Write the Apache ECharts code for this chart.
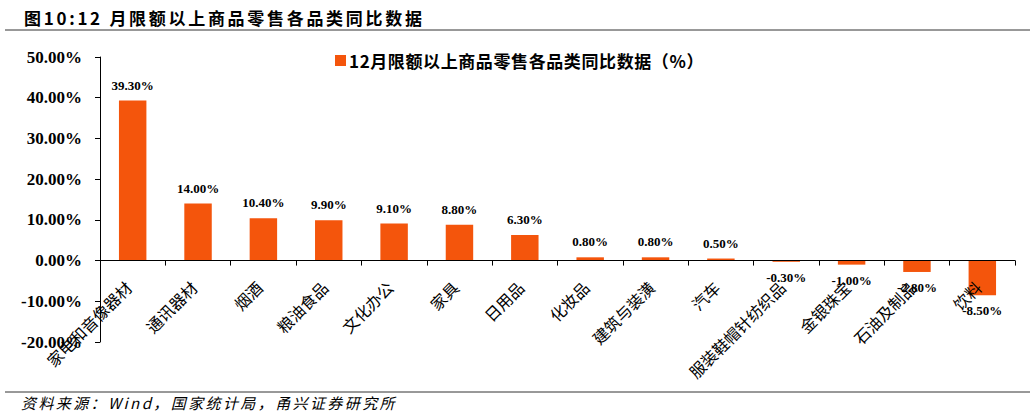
<!DOCTYPE html>
<html><head><meta charset="utf-8">
<script src="https://cdn.jsdelivr.net/npm/echarts@6/dist/echarts.min.js"></script>
<style>html,body{margin:0;padding:0;background:#fff}#c{width:1032px;height:419px}</style>
</head><body><div id="c"></div>
<script>
const categories = ['家电和音像器材','通讯器材','烟酒','粮油食品','文化办公','家具','日用品','化妆品','建筑与装潢','汽车','服装鞋帽针纺织品','金银珠宝','石油及制品','饮料'];
const values = [39.3, 14.0, 10.4, 9.9, 9.1, 8.8, 6.3, 0.8, 0.8, 0.5, -0.3, -1.0, -2.8, -8.5];
const seriesName = '12月限额以上商品零售各品类同比数据（%）';
const titleText = '图10:12 月限额以上商品零售各品类同比数据';
const sourceText = '资料来源：Wind，国家统计局，甬兴证券研究所';

const chart = echarts.init(document.getElementById('c'), null, {renderer: 'svg'});
const serif = '"Liberation Serif","Times New Roman",serif';
const cjk = '"Noto Sans CJK SC",sans-serif';
chart.setOption({
  animation: false,
  title: {text: titleText, left: 19, top: 4, textStyle: {fontSize: 17, fontWeight: 'bold', color: '#000', fontFamily: cjk}},
  graphic: [
    {type: 'line', shape: {x1: 5, y1: 30, x2: 1030, y2: 30}, style: {stroke: '#333', lineWidth: 1}},
    {type: 'line', shape: {x1: 5, y1: 392, x2: 1030, y2: 392}, style: {stroke: '#333', lineWidth: 1}},
    {type: 'text', left: 21, top: 395, style: {text: sourceText, font: 'italic 15px ' + cjk, fill: '#000'}}
  ],
  legend: {left: 330, top: 47, itemWidth: 11, itemHeight: 11, itemGap: 5, icon: 'rect',
    textStyle: {fontSize: 17, fontWeight: 'bold', color: '#000', fontFamily: cjk, padding: [0, 0, 0, -2]}},
  grid: {left: 100, right: 17, top: 57, bottom: 77, containLabel: false, outerBoundsMode: 'none'},
  xAxis: {type: 'category', data: categories, z: 5,
    axisLine: {onZero: true, lineStyle: {color: '#000', width: 1}},
    axisTick: {show: true, inside: false, length: 5, lineStyle: {color: '#000'}},
    axisLabel: {interval: 0, rotate: 45, fontSize: 16, color: '#000', fontFamily: cjk, margin: -62, padding: [0, 6, 0, 0]}},
  yAxis: {type: 'value', min: -20, max: 50, interval: 10,
    splitLine: {show: false},
    axisLine: {show: true, lineStyle: {color: '#000'}},
    axisTick: {show: true, length: 5, lineStyle: {color: '#000'}},
    axisLabel: {formatter: v => v.toFixed(2) + '%', fontSize: 17, fontWeight: 'bold', color: '#000', fontFamily: serif, margin: 18}},
  series: [{
    type: 'bar', name: seriesName, barWidth: '42%',
    data: values.map(v => v < 0 ? {value: v, label: {position: 'bottom'}} : {value: v}),
    itemStyle: {color: '#F4550C'},
    label: {show: true, fontSize: 13, fontWeight: 'bold', color: '#000', fontFamily: serif,
      formatter: p => p.value.toFixed(2) + '%', distance: 9, position: 'top'}
  }]
});
// letter spacing for title, legend and source text (SVG renderer)
const spacing = {};
spacing[titleText] = '2.7px';
spacing[seriesName] = '0.6px';
spacing[sourceText] = '2.4px';
document.querySelectorAll('#c text').forEach(t => {
  const s = spacing[t.textContent];
  if (s) t.style.letterSpacing = s;
});
</script></body></html>
